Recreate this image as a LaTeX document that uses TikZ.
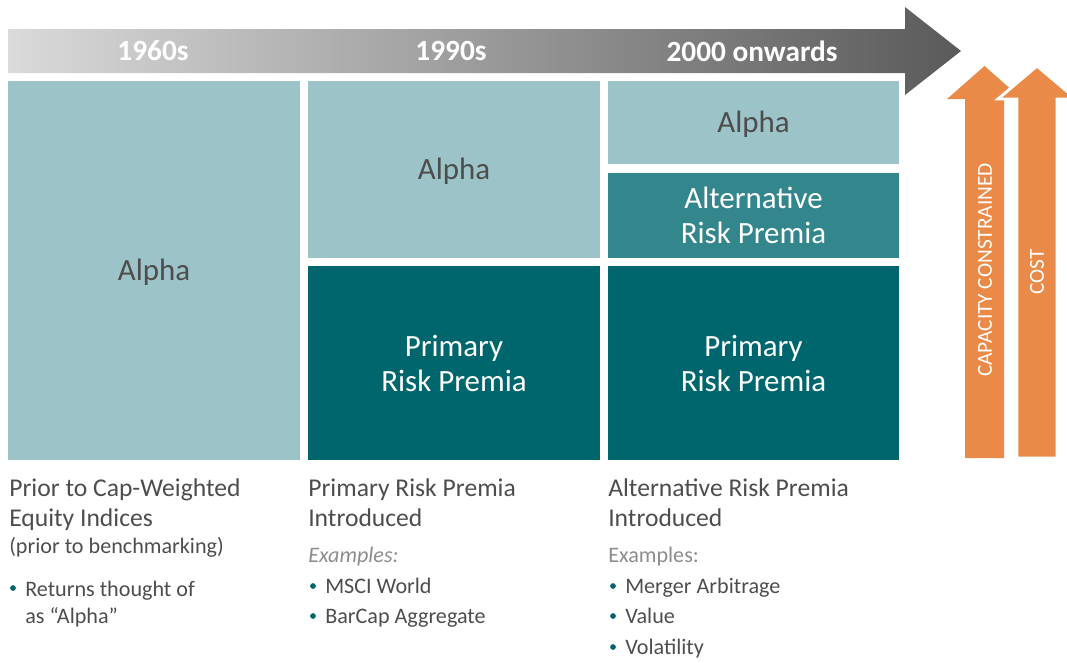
\documentclass[tikz,border=0pt]{standalone}
\usepackage{fontspec}
\setmainfont{Carlito}
\usetikzlibrary{fit}
\definecolor{lightteal}{HTML}{9CC3C7}
\definecolor{midteal}{HTML}{33868C}
\definecolor{darkteal}{HTML}{00666E}
\definecolor{arroworange}{HTML}{EA8A48}
\definecolor{bodytext}{HTML}{4D4D4D}
\definecolor{softgray}{HTML}{8C8C8C}
\definecolor{barlight}{HTML}{DADADA}
\definecolor{bardark}{HTML}{5A5A5A}
\tikzset{
  panel/.style={inner sep=0pt, outer sep=0pt, draw=none},
  boxtext/.style={align=center, font=\fontsize{23.2}{26.25}\selectfont, inner sep=0pt},
  era/.style={text=white, font=\bfseries\fontsize{22}{26}\selectfont, inner sep=0pt},
  title/.style={anchor=base west, inner sep=0pt, text=bodytext, font=\fontsize{19.2}{22}\selectfont},
  small/.style={anchor=base west, inner sep=0pt, text=bodytext, font=\fontsize{16.6}{19}\selectfont},
  dot/.style={circle, fill=darkteal, inner sep=0pt, minimum size=4.3pt},
  upbar/.style={fill=arroworange},
  vlabel/.style={rotate=90, text=white, inner sep=0pt, font=\fontsize{16}{19}\selectfont}
}
\begin{document}
\begin{tikzpicture}[x=0.75pt,y=-0.75pt]
\useasboundingbox (0,0) rectangle (1067,662);

% timeline arrow with grey gradient
\path[left color=barlight, right color=bardark]
  (8,29) -- (905,29) -- (905,7) -- (961,51) -- (905,95) -- (905,73) -- (8,73) -- cycle;
\node[era] (e1) at (153,51) {1960s};
\node[era] (e2) at (451,51) {1990s};
\node[era] (e3) at (752,51) {2000 onwards};

% column panels
\node[panel, fill=lightteal, fit={(8,81) (300,460)}] (c1a) {};
\node[panel, fill=lightteal, fit={(308,81) (600,258)}] (c2a) {};
\node[panel, fill=darkteal, fit={(308,266) (600,460)}] (c2p) {};
\node[panel, fill=lightteal, fit={(608,81) (899,164)}] (c3a) {};
\node[panel, fill=midteal, fit={(608,173) (899,258)}] (c3r) {};
\node[panel, fill=darkteal, fit={(608,266) (899,460)}] (c3p) {};

\node[boxtext, text=bodytext] (t1a) at ([yshift=-1.5pt]c1a.center) {Alpha};
\node[boxtext, text=bodytext] (t2a) at ([yshift=-1.5pt]c2a.center) {Alpha};
\node[boxtext, text=white] (t2p) at (c2p.center) {Primary\\Risk Premia};
\node[boxtext, text=bodytext] (t3a) at ([yshift=-1.5pt]c3a.center) {Alpha};
\node[boxtext, text=white] (t3r) at (c3r.center) {Alternative\\Risk Premia};
\node[boxtext, text=white] (t3p) at (c3p.center) {Primary\\Risk Premia};

% rising arrows on the right
\path[upbar] (965,458) -- (965,99) -- (947,99) -- (984.5,66) -- (1022,99) -- (1004,99) -- (1004,458) -- cycle;
\path[upbar, draw=white, line width=2.2] (1017,458) -- (1017,99) -- (998,99) -- (1037,66) -- (1076,99) -- (1057,99) -- (1057,458) -- cycle;
\node[vlabel] (cap) at (985,270) {CAPACITY CONSTRAINED};
\node[vlabel] (cost) at (1037,272) {COST};

% column captions
\node[title] (a1) at (9,496) {Prior to Cap-Weighted};
\node[title] (a2) at (9,526) {Equity Indices};
\node[small] (a3) at (9,553) {(prior to benchmarking)};
\node[dot] (ab1) at (13,588) {};
\node[small] (a4) at (25,596) {Returns thought of};
\node[small] (a5) at (25,623) {as “Alpha”};

\node[title] (b1) at (308,496) {Primary Risk Premia};
\node[title] (b2) at (308,526) {Introduced};
\node[small, text=softgray, font=\itshape\fontsize{16.6}{19}\selectfont] (b3) at (308,562) {Examples:};
\node[dot] (bb1) at (313,586) {};
\node[small] (b4) at (325,593) {MSCI World};
\node[dot] (bb2) at (313,616) {};
\node[small] (b5) at (325,623) {BarCap Aggregate};

\node[title] (d1) at (608,496) {Alternative Risk Premia};
\node[title] (d2) at (608,526) {Introduced};
\node[small, text=softgray] (d3) at (608,562) {Examples:};
\node[dot] (db1) at (613,586) {};
\node[small] (d4) at (625,593) {Merger Arbitrage};
\node[dot] (db2) at (613,616) {};
\node[small] (d5) at (625,623) {Value};
\node[dot] (db3) at (613,647) {};
\node[small] (d6) at (625,654) {Volatility};
\end{tikzpicture}
\end{document}
